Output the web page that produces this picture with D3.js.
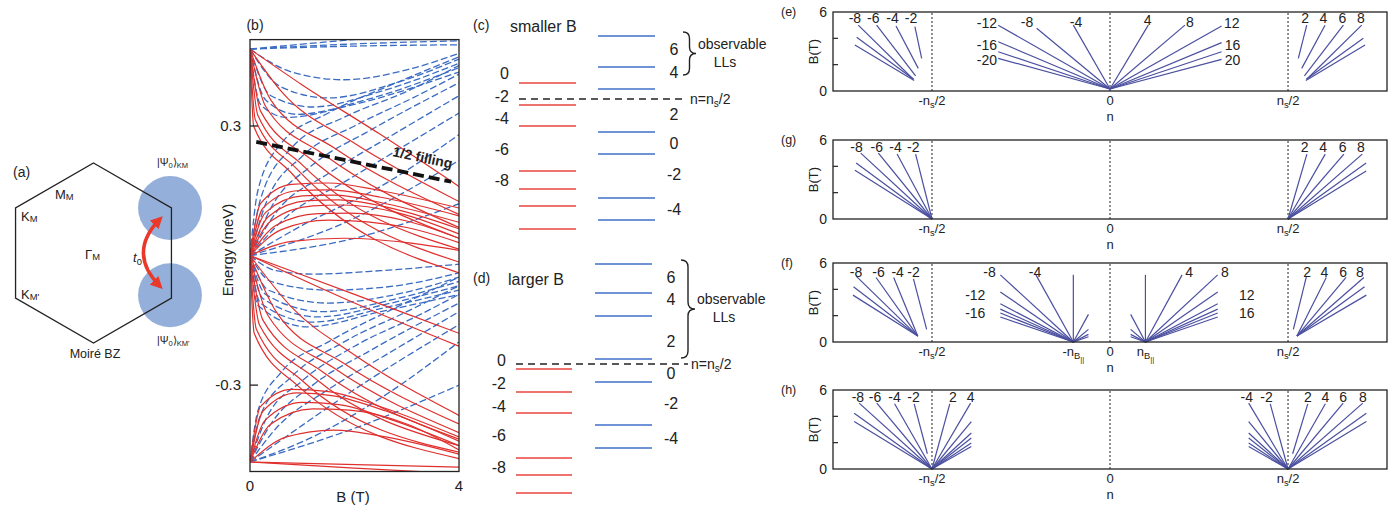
<!DOCTYPE html>
<html><head><meta charset="utf-8">
<script src="https://cdn.jsdelivr.net/npm/d3@7"></script>
<style>
body{margin:0;background:#fff;}
svg{display:block;}
text{font-family:"Liberation Sans",Arial,Helvetica,sans-serif;fill:#222;}
</style></head><body>
<svg id="c" width="1395" height="513"></svg>
<script>
// ================= DATA =================
// Panel (a): Moiré BZ (unit hexagon), valley wavefunction blobs
const hexVerts = [[0,1],[0.866,0.5],[0.866,-0.5],[0,-1],[-0.866,-0.5],[-0.866,0.5]];
const blobs = [[0.85,0.5],[0.85,-0.47]];
const blobR = 0.355;

// Panel (b): energy levels vs B, each curve = [[B (T), E (meV)], ...]
const bRedCurves = [
  // from upper node, falling
  [[0,0.478],[1,0.395],[2.5,0.28],[4,0.16]],
  [[0,0.478],[0.6,0.38],[2,0.26],[4,0.125]],
  [[0,0.478],[0.4,0.36],[1.6,0.25],[4,0.095]],
  [[0,0.478],[0.3,0.345],[1.4,0.235],[4,0.065]],
  [[0,0.478],[0.2,0.335],[1.2,0.22],[4,0.04]],
  [[0,0.478],[0.15,0.325],[1,0.21],[4,0.015]],
  [[0,0.478],[0.1,0.315],[0.9,0.2],[4,-0.015]],
  [[0,0.478],[0.07,0.30],[0.8,0.19],[4,-0.04]],
  // humps from middle node
  [[0,0],[0.2,0.12],[0.8,0.165],[1.5,0.168],[2.5,0.15],[4,0.11]],
  [[0,0],[0.25,0.11],[0.9,0.15],[1.5,0.152],[2.5,0.135],[4,0.092]],
  [[0,0],[0.3,0.10],[1,0.138],[1.6,0.14],[2.6,0.12],[4,0.077]],
  [[0,0],[0.35,0.09],[1.1,0.127],[1.7,0.129],[2.7,0.11],[4,0.062]],
  [[0,0],[0.4,0.08],[1.2,0.115],[1.8,0.117],[2.8,0.10],[4,0.05]],
  [[0,0],[0.5,0.07],[1.3,0.097],[1.9,0.098],[3,0.08],[4,0.04]],
  [[0,0],[0.6,0.06],[1.5,0.082],[3,0.065],[4,0.03]],
  [[0,0],[0.8,0.033],[1.8,0.04],[3,0.03],[4,0.012]],
  // from middle node, falling
  [[0,0],[2,-0.09],[4,-0.18]],
  [[0,0],[2,-0.11],[4,-0.21]],
  [[0,0],[0.8,-0.12],[2,-0.23],[4,-0.37]],
  [[0,0],[0.5,-0.13],[1.8,-0.25],[4,-0.39]],
  [[0,0],[0.35,-0.14],[1.6,-0.26],[4,-0.41]],
  [[0,0],[0.25,-0.15],[1.4,-0.27],[4,-0.425]],
  [[0,0],[0.18,-0.16],[1.2,-0.28],[4,-0.44]],
  [[0,0],[0.12,-0.17],[1,-0.29],[4,-0.455]],
  [[0,0],[0.08,-0.18],[0.9,-0.30],[4,-0.47]],
  // humps from lower node
  [[0,-0.478],[0.2,-0.35],[0.8,-0.31],[1.5,-0.315],[2.5,-0.35],[4,-0.42]],
  [[0,-0.478],[0.25,-0.36],[0.9,-0.318],[1.6,-0.325],[2.6,-0.36],[4,-0.43]],
  [[0,-0.478],[0.3,-0.38],[1,-0.34],[1.7,-0.345],[2.7,-0.38],[4,-0.44]],
  [[0,-0.478],[0.4,-0.39],[1.2,-0.355],[1.9,-0.358],[3,-0.39],[4,-0.45]],
  [[0,-0.478],[0.7,-0.42],[1.6,-0.404],[2.6,-0.42],[4,-0.46]],
  [[0,-0.478],[4,-0.49]],
  [[0,-0.478],[2,-0.492],[4,-0.505]]
];
const bBlueCurves = [
  // near-flat from upper node
  [[0,0.478],[2,0.49],[4,0.497]],
  [[0,0.478],[2,0.485],[4,0.488]],
  [[0,0.478],[1.5,0.495],[3,0.51]],
  // U shapes from upper node
  [[0,0.478],[0.8,0.425],[1.8,0.407],[3,0.43],[4,0.468]],
  [[0,0.478],[0.6,0.39],[1.5,0.365],[2.8,0.40],[4,0.455]],
  [[0,0.478],[0.4,0.37],[1.2,0.344],[2.5,0.38],[4,0.445]],
  [[0,0.478],[0.3,0.36],[0.9,0.327],[2.2,0.36],[4,0.435]],
  [[0,0.478],[0.2,0.35],[0.7,0.32],[2,0.35],[4,0.425]],
  // rising from middle node
  [[0,0],[0.15,0.15],[0.6,0.26],[1.5,0.33],[2.8,0.40],[4,0.46]],
  [[0,0],[0.2,0.13],[0.8,0.25],[1.8,0.32],[3,0.38],[4,0.44]],
  [[0,0],[0.3,0.12],[1,0.23],[2,0.30],[3.2,0.37],[4,0.42]],
  [[0,0],[0.4,0.11],[1.2,0.21],[2.3,0.29],[4,0.40]],
  [[0,0],[0.5,0.10],[1.5,0.19],[2.6,0.27],[4,0.37]],
  [[0,0],[0.7,0.09],[1.8,0.17],[4,0.33]],
  [[0,0],[1,0.07],[2.5,0.16],[4,0.28]],
  [[0,0],[1.5,0.06],[4,0.22]],
  [[0,0],[2,0.04],[4,0.12]],
  // U shapes from middle node (downward)
  [[0,0],[0.5,-0.035],[1.2,-0.043],[2.5,-0.035],[4,-0.02]],
  [[0,0],[0.4,-0.06],[1.5,-0.08],[2.8,-0.07],[4,-0.04]],
  [[0,0],[0.35,-0.08],[1.5,-0.11],[2.8,-0.09],[4,-0.05]],
  [[0,0],[0.3,-0.09],[1.4,-0.13],[2.8,-0.10],[4,-0.06]],
  [[0,0],[0.25,-0.10],[1.3,-0.142],[2.7,-0.11],[4,-0.07]],
  [[0,0],[0.2,-0.11],[1.2,-0.154],[2.6,-0.12],[4,-0.08]],
  [[0,0],[0.15,-0.115],[1.1,-0.165],[2.5,-0.13],[4,-0.09]],
  // rising from lower node
  [[0,-0.478],[0.15,-0.36],[0.6,-0.27],[1.5,-0.2],[2.8,-0.12],[4,-0.05]],
  [[0,-0.478],[0.2,-0.37],[0.8,-0.28],[1.8,-0.2],[3,-0.13],[4,-0.07]],
  [[0,-0.478],[0.3,-0.38],[1,-0.29],[2,-0.21],[3.2,-0.14],[4,-0.09]],
  [[0,-0.478],[0.4,-0.39],[1.2,-0.30],[2.3,-0.22],[4,-0.11]],
  [[0,-0.478],[0.5,-0.40],[1.5,-0.31],[2.6,-0.23],[4,-0.13]],
  [[0,-0.478],[0.8,-0.41],[2,-0.31],[4,-0.16]],
  [[0,-0.478],[1.2,-0.42],[2.5,-0.33],[4,-0.20]],
  [[0,-0.478],[2,-0.40],[4,-0.30]]
];
const halfFilling = [[0.12,0.263],[3.85,0.171]];
const bYTicks = [0.3,-0.3];
const bYTickLabels = ["0.3","-0.3"];
const bXTicks = [0,4];

// Panel (c)/(d): level schemes (energy in arbitrary units, 0 = half filling)
const cRed = [1.6,-0.6,-2.7,-7.2,-9.0,-10.7,-13.0];
const cBlue = [6.3,3.2,1.0,-3.3,-5.5,-9.9,-12.1];
const cRedLabels = [["0",2.6],["-2",0.3],["-4",-1.9],["-6",-5.0],["-8",-8.1]];
const cBlueLabels = [["6",5.0],["4",2.7],["2",-1.5],["0",-4.4],["-2",-7.5],["-4",-11.0]];
const dRed = [-0.5,-2.8,-4.9,-9.4,-11.1,-12.9];
const dBlue = [10.0,7.1,4.8,0.5,-1.8,-6.1,-8.4];
const dRedLabels = [["0",0.4],["-2",-1.9],["-4",-4.2],["-6",-7.1],["-8",-10.3]];
const dBlueLabels = [["6",8.7],["4",6.5],["2",2.3],["0",-0.9],["-2",-3.9],["-4",-7.4]];

// Panels (e),(g),(f),(h): Landau fans, segments [n1,B1,n2,B2] (n in units of ns/2)
const eSegs = [
  [-1.414,5.0,-1.105,0.89],[-1.311,5.0,-1.092,1.14],[-1.202,4.94,-1.077,1.72],[-1.096,4.88,-1.058,2.48],
  [-1.423,4.08,-1.103,0.89],[-1.433,3.49,-1.10,0.8],
  [0,0.15,-0.206,5.0],[0,0.15,-0.412,4.76],[0,0.15,-0.628,5.0],[0,0.15,-0.628,3.74],[0,0.15,-0.628,2.98],[0,0.15,-0.628,2.48],
  [0,0.15,0.215,5.0],[0,0.15,0.421,5.0],[0,0.15,0.627,4.94],[0,0.15,0.627,3.67],[0,0.15,0.627,2.98],[0,0.15,0.627,2.4],
  [1.105,5.0,1.058,2.48],[1.208,5.0,1.077,1.72],[1.311,5.0,1.092,1.14],[1.414,5.0,1.105,0.89],
  [1.423,4.0,1.103,0.89],[1.433,3.49,1.10,0.8]
];
const eLabels = [["-8",-1.433,5.52,"middle"],["-6",-1.33,5.52,"middle"],["-4",-1.222,5.52,"middle"],["-2",-1.118,5.52,"middle"],
  ["-12",-0.635,5.16,"end"],["-8",-0.466,5.24,"middle"],["-4",-0.191,5.24,"middle"],["-16",-0.635,3.49,"end"],["-20",-0.635,2.35,"end"],
  ["4",0.211,5.39,"middle"],["8",0.449,5.24,"middle"],["12",0.64,5.16,"start"],["16",0.645,3.49,"start"],["20",0.645,2.35,"start"],
  ["2",1.096,5.54,"middle"],["4",1.199,5.54,"middle"],["6",1.306,5.54,"middle"],["8",1.41,5.54,"middle"]];
const gSegs = [
  [-1,0,-1.40,5.0],[-1,0,-1.301,5.0],[-1,0,-1.196,4.93],[-1,0,-1.092,4.93],[-1,0,-1.426,4.25],[-1,0,-1.433,3.7],
  [1,0,1.106,4.93],[1,0,1.209,4.93],[1,0,1.314,4.93],[1,0,1.417,4.93],[1,0,1.439,4.25],[1,0,1.439,3.65]
];
const gLabels = [["-8",-1.424,5.47,"middle"],["-6",-1.31,5.47,"middle"],["-4",-1.205,5.47,"middle"],["-2",-1.105,5.47,"middle"],
  ["2",1.094,5.47,"middle"],["4",1.197,5.47,"middle"],["6",1.307,5.47,"middle"],["8",1.41,5.47,"middle"]];
const fSegs = [
  [-1.08,0.45,-1.426,5.0],[-1.08,0.45,-1.314,4.9],[-1.08,0.45,-1.215,4.9],[-1.03,0.96,-1.104,4.8],[-1.08,0.45,-1.441,4.2],[-1.08,0.45,-1.444,3.56],
  [-0.206,0,-0.206,5.1],[-0.206,0,-0.416,5.1],[-0.206,0,-0.616,5.1],[-0.206,0,-0.616,3.8],[-0.206,0,-0.616,2.9],[-0.206,0,-0.616,2.5],[-0.206,0,-0.616,2.2],[-0.206,0,-0.616,1.9],
  [-0.206,0,-0.121,2.1],[-0.206,0,-0.121,0.96],[-0.206,0,-0.121,0.58],[-0.206,0,-0.121,0.4],
  [0.199,0,0.199,5.1],[0.199,0,0.405,5.1],[0.199,0,0.605,5.1],[0.199,0,0.605,3.8],[0.199,0,0.605,2.9],[0.199,0,0.605,2.5],[0.199,0,0.605,2.2],[0.199,0,0.605,1.9],
  [0.199,0,0.116,2.1],[0.199,0,0.116,0.96],[0.199,0,0.116,0.58],[0.199,0,0.116,0.4],
  [1.03,0.96,1.104,5.0],[1.05,0.45,1.215,4.9],[1.05,0.45,1.326,4.9],[1.05,0.45,1.426,4.9],[1.05,0.45,1.43,4.2],[1.05,0.45,1.44,3.56]
];
const fLabels = [["-8",-1.427,5.34,"middle"],["-6",-1.30,5.34,"middle"],["-4",-1.193,5.34,"middle"],["-2",-1.104,5.34,"middle"],
  ["-8",-0.677,5.34,"middle"],["-4",-0.421,5.34,"middle"],["-12",-0.70,3.57,"end"],["-16",-0.70,2.2,"end"],
  ["4",0.444,5.34,"middle"],["8",0.646,5.34,"middle"],["12",0.725,3.57,"start"],["16",0.725,2.2,"start"],
  ["2",1.107,5.34,"middle"],["4",1.204,5.34,"middle"],["6",1.309,5.34,"middle"],["8",1.404,5.34,"middle"]];
const hSegs = [
  [-1,0,-1.409,5.0],[-1,0,-1.31,5.0],[-1,0,-1.21,4.95],[-1.026,1.16,-1.10,4.95],[-1,0,-1.437,4.24],[-1,0,-1.437,3.6],
  [-1,0,-0.90,4.95],[-1,0,-0.783,5.0],[-1,0,-0.779,3.6],[-1,0,-0.779,2.73],[-1,0,-0.779,2.35],[-1,0,-0.779,1.97],[-1,0,-0.779,1.71],
  [1,0,0.779,5.0],[1,0,0.90,4.95],[1,0,0.779,3.6],[1,0,0.779,2.73],[1,0,0.779,2.35],[1,0,0.779,1.97],[1,0,0.779,1.71],
  [1.026,1.16,1.111,4.95],[1,0,1.21,4.95],[1,0,1.31,5.0],[1,0,1.42,5.0],[1,0,1.44,4.24],[1,0,1.44,3.6]
];
const hLabels = [["-8",-1.416,5.49,"middle"],["-6",-1.32,5.49,"middle"],["-4",-1.21,5.49,"middle"],["-2",-1.104,5.49,"middle"],
  ["2",-0.883,5.49,"middle"],["4",-0.783,5.49,"middle"],
  ["-4",0.768,5.49,"middle"],["-2",0.879,5.49,"middle"],["2",1.111,5.49,"middle"],["4",1.21,5.49,"middle"],["6",1.309,5.49,"middle"],["8",1.42,5.49,"middle"]];
const fanDotted = [-1,0,1];
const fanYTicks = [2,4];
const fanYLabels = [[6,"6"],[0,"0"]];

// ================= DRAW =================
const svg = d3.select("#c");
const RED = "#e0302e", BLUE = "#3a6bc2", FAN = "#4a4f9f";

function rich(sel, x, y, parts, size, anchor, subShift) {
  const t = sel.append("text").attr("x", x).attr("y", y)
    .attr("font-size", size).attr("text-anchor", anchor || "start");
  const s1 = subShift === undefined ? 0.22 : subShift;
  let cur = 0;
  parts.forEach(p => {
    const s = typeof p === "string" ? p : p[0];
    const lvl = typeof p === "string" ? 0 : p[1];
    const shift = lvl === 0 ? 0 : (lvl === 1 ? size * s1 : size * 0.45);
    const fs = lvl === 0 ? size : (lvl === 1 ? size * 0.72 : size * 0.6);
    t.append("tspan").attr("dy", shift - cur).attr("font-size", fs).text(s);
    cur = shift;
  });
  return t;
}

const defs = svg.append("defs");
defs.append("marker").attr("id","arr").attr("viewBox","0 0 10 10").attr("refX",7).attr("refY",5)
  .attr("markerWidth",3.6).attr("markerHeight",3.6).attr("orient","auto-start-reverse")
  .append("path").attr("d","M0,0 L10,5 L0,10 z").attr("fill","#e8392b");

// ---- Panel (a)
{
  const ax = d3.scaleLinear().domain([-1,1]).range([3.5,183.5]);
  const ay = d3.scaleLinear().domain([-1,1]).range([343,163]);
  const g = svg.append("g");
  g.selectAll("circle").data(blobs).join("circle")
    .attr("cx", d => ax(d[0])).attr("cy", d => ay(d[1]))
    .attr("r", ax(blobR) - ax(0)).attr("fill", "#94afd9");
  g.append("path").attr("d", d3.line().x(d=>ax(d[0])).y(d=>ay(d[1])).curve(d3.curveLinearClosed)(hexVerts))
    .attr("fill","none").attr("stroke","#222").attr("stroke-width",1.3);
  g.append("path").attr("d", `M${ax(0.74)},${ay(0.38)} Q${ax(0.37)},${ay(0.0)} ${ax(0.74)},${ay(-0.37)}`)
    .attr("fill","none").attr("stroke","#e8392b").attr("stroke-width",3.4)
    .attr("marker-start","url(#arr)").attr("marker-end","url(#arr)");
  g.append("text").attr("x",13).attr("y",177).attr("font-size",14).text("(a)");
  rich(g, 55, 199, ["M",["M",1]], 13, "start", 0.08);
  rich(g, 21, 221, ["K",["M",1]], 13, "start", 0.08);
  rich(g, 21, 299, ["K",["M'",1]], 13, "start", 0.08);
  rich(g, 85, 259, ["Γ",["M",1]], 13, "start", 0.08);
  rich(g, 133, 262, [["t",0],["0",1]], 13).select("tspan").attr("font-style","italic");
  rich(g, 157, 166, ["|Ψ",["0",1],"⟩",["KM",1]], 10.5);
  rich(g, 157, 344, ["|Ψ",["0",1],"⟩",["KM'",1]], 10.5);
  g.append("text").attr("x",95).attr("y",358).attr("font-size",12.5).attr("text-anchor","middle").text("Moiré BZ");
}

// ---- Panel (b)
{
  const bx = d3.scaleLinear().domain([0,4]).range([250,459]);
  const by = d3.scaleLinear().domain([-0.5,0.5]).range([471.5,39.6]);
  const g = svg.append("g");
  defs.append("clipPath").attr("id","bclip").append("rect")
    .attr("x",bx(0)).attr("y",by(0.5)).attr("width",bx(4)-bx(0)).attr("height",by(-0.5)-by(0.5));
  const line = d3.line().x(d=>bx(d[0])).y(d=>by(d[1])).curve(d3.curveMonotoneX);
  const inner = g.append("g").attr("clip-path","url(#bclip)");
  inner.selectAll(".bl").data(bBlueCurves).join("path").attr("class","bl")
    .attr("d", line).attr("fill","none").attr("stroke",BLUE).attr("stroke-width",1.3)
    .attr("stroke-dasharray","7,3");
  inner.selectAll(".rd").data(bRedCurves).join("path").attr("class","rd")
    .attr("d", line).attr("fill","none").attr("stroke",RED).attr("stroke-width",1.2);
  inner.append("path").attr("d", d3.line().x(d=>bx(d[0])).y(d=>by(d[1]))(halfFilling))
    .attr("fill","none").attr("stroke","#111").attr("stroke-width",3.8).attr("stroke-dasharray","11,5");
  inner.append("text").attr("x",392).attr("y",156).attr("font-size",14).attr("font-weight","bold")
    .attr("transform","rotate(12,392,156)").text("1/2 filling");
  g.append("rect").attr("x",bx(0)).attr("y",by(0.5)).attr("width",bx(4)-bx(0)).attr("height",by(-0.5)-by(0.5))
    .attr("fill","none").attr("stroke","#222").attr("stroke-width",1.3);
  bYTicks.forEach((v,i) => {
    g.append("line").attr("x1",bx(0)).attr("x2",bx(0)+8).attr("y1",by(v)).attr("y2",by(v)).attr("stroke","#222").attr("stroke-width",1.3);
    g.append("text").attr("x",bx(0)-9).attr("y",by(v)).attr("dy","0.35em").attr("text-anchor","end")
      .attr("font-size",15).text(bYTickLabels[i]);
  });
  bXTicks.forEach(v => g.append("text").attr("x",bx(v)).attr("y",491).attr("text-anchor","middle").attr("font-size",15).text(v));
  g.append("text").attr("x",353).attr("y",502).attr("text-anchor","middle").attr("font-size",15).text("B (T)");
  g.append("text").attr("transform","translate(233,250) rotate(-90)").attr("text-anchor","middle").attr("font-size",15).text("Energy (meV)");
  g.append("text").attr("x",255).attr("y",30).attr("text-anchor","middle").attr("font-size",14).text("(b)");
}

// ---- Panels (c),(d)
function levelPanel(y0, red, blue, redLabels, blueLabels, rx, bxr, dashX, tag, title, tagY, brace) {
  const y = d3.scaleLinear().domain([0,1]).range([y0, y0-10]);
  const g = svg.append("g");
  g.selectAll(".r").data(red).join("line").attr("x1",rx[0]).attr("x2",rx[1])
    .attr("y1",d=>y(d)).attr("y2",d=>y(d)).attr("stroke","#e8453f").attr("stroke-width",1.6);
  g.selectAll(".b").data(blue).join("line").attr("x1",bxr[0]).attr("x2",bxr[1])
    .attr("y1",d=>y(d)).attr("y2",d=>y(d)).attr("stroke","#3f6fc6").attr("stroke-width",1.6);
  g.append("line").attr("x1",dashX[0]).attr("x2",dashX[1]).attr("y1",y(0)).attr("y2",y(0))
    .attr("stroke","#222").attr("stroke-width",1.3).attr("stroke-dasharray","7,5");
  redLabels.forEach(([t,v]) => g.append("text").attr("x",rx[0]-10).attr("y",y(v)).attr("dy","0.35em")
    .attr("text-anchor","end").attr("font-size",16).text(t));
  blueLabels.forEach(([t,v]) => g.append("text").attr("x",bxr[1]+19).attr("y",y(v)).attr("dy","0.35em")
    .attr("text-anchor","middle").attr("font-size",16).text(t));
  rich(g, dashX[1]+3, y(0)+5, ["n=n",["s",1],"/2"], 14);
  g.append("text").attr("x",473).attr("y",tagY).attr("font-size",14).text(tag);
  g.append("text").attr("x",tag === "(c)" ? 510 : 508).attr("y",tagY+2).attr("font-size",16).text(title);
  // brace
  const [bxp, yA, yB, w] = brace; const ym = (yA+yB)/2; const r = w/2;
  g.append("path").attr("d",
    `M${bxp},${yA} Q${bxp+r},${yA} ${bxp+r},${yA+r} L${bxp+r},${ym-r} Q${bxp+r},${ym} ${bxp+w},${ym} Q${bxp+r},${ym} ${bxp+r},${ym+r} L${bxp+r},${yB-r} Q${bxp+r},${yB} ${bxp},${yB}`)
    .attr("fill","none").attr("stroke","#222").attr("stroke-width",1.4);
  g.append("text").attr("x",bxp+w+2).attr("y",ym-5).attr("font-size",14).text("observable");
  g.append("text").attr("x",bxp+w+29).attr("y",ym+13).attr("text-anchor","middle").attr("font-size",14).text("LLs");
}
levelPanel(99, cRed, cBlue, cRedLabels, cBlueLabels, [519,576], [598,655], [519,687], "(c)", "smaller B", 30, [683,32,75,13]);
levelPanel(364, dRed, dBlue, dRedLabels, dBlueLabels, [516,572], [595,652], [516,688], "(d)", "larger B", 283, [681,260,358,14]);

// ---- Fan panels
const fx = d3.scaleLinear().domain([-1.556,1.556]).range([833,1387]);
function fanPanel(top, bottom, tag, segs, labels, xlab) {
  const y = d3.scaleLinear().domain([0,6]).range([bottom, top]);
  const g = svg.append("g");
  fanDotted.forEach(n => g.append("line").attr("x1",fx(n)).attr("x2",fx(n)).attr("y1",y(0)).attr("y2",y(6))
    .attr("stroke","#222").attr("stroke-width",1).attr("stroke-dasharray","2,2"));
  g.selectAll(".s").data(segs).join("line")
    .attr("x1",d=>fx(d[0])).attr("y1",d=>y(d[1])).attr("x2",d=>fx(d[2])).attr("y2",d=>y(d[3]))
    .attr("stroke",FAN).attr("stroke-width",1.2);
  g.append("rect").attr("x",fx(-1.556)).attr("y",y(6)).attr("width",fx(1.556)-fx(-1.556)).attr("height",y(0)-y(6))
    .attr("fill","none").attr("stroke","#222").attr("stroke-width",1.3);
  fanYTicks.forEach(v => g.append("line").attr("x1",fx(-1.556)).attr("x2",fx(-1.556)+5).attr("y1",y(v)).attr("y2",y(v))
    .attr("stroke","#222").attr("stroke-width",1.2));
  fanYLabels.forEach(([v,t]) => g.append("text").attr("x",fx(-1.556)-6).attr("y",y(v)).attr("dy","0.35em")
    .attr("text-anchor","end").attr("font-size",14).text(t));
  g.append("text").attr("x",781).attr("y",y(6)+4).attr("font-size",12.5).text(tag);
  g.append("text").attr("transform",`translate(818,${(top+bottom)/2}) rotate(-90)`).attr("text-anchor","middle")
    .attr("font-size",13).text("B(T)");
  labels.forEach(([t,n,b,a]) => g.append("text").attr("x",fx(n)).attr("y",y(b)).attr("dy","0.35em")
    .attr("text-anchor",a).attr("font-size",14).text(t));
  const ly = bottom + 14;
  rich(g, fx(-1), ly, ["-n",["s",1],"/2"], 13, "middle");
  g.append("text").attr("x",fx(0)).attr("y",ly).attr("text-anchor","middle").attr("font-size",13).text("0");
  rich(g, fx(1), ly, ["n",["s",1],"/2"], 13, "middle");
  if (xlab) {
    rich(g, fx(-0.206), ly, ["-n",["B",1],["||",2]], 13, "middle");
    rich(g, fx(0.199), ly, ["n",["B",1],["||",2]], 13, "middle");
  }
  g.append("text").attr("x",fx(0)).attr("y",bottom+30).attr("text-anchor","middle").attr("font-size",13).text("n");
}
fanPanel(12, 91, "(e)", eSegs, eLabels, false);
fanPanel(140, 219, "(g)", gSegs, gLabels, false);
fanPanel(263, 342, "(f)", fSegs, fLabels, true);
fanPanel(390, 469, "(h)", hSegs, hLabels, false);
</script></body></html>
